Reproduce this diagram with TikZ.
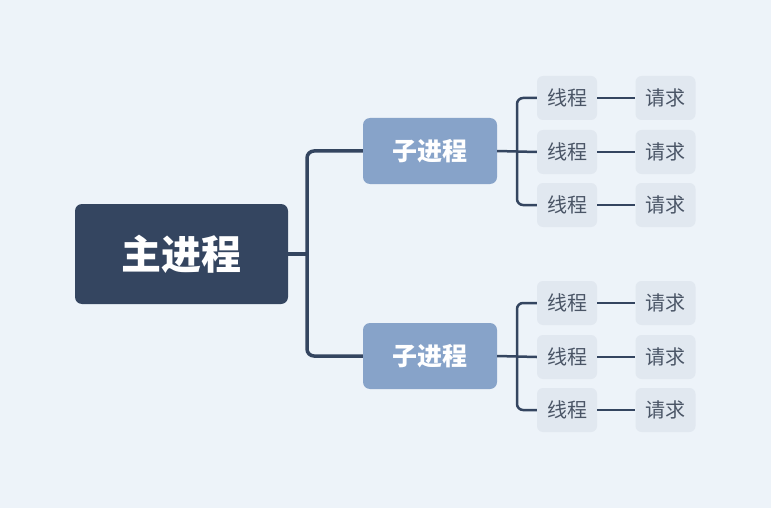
\documentclass[tikz,border=0pt]{standalone}
\usepackage{fontspec}
\setmainfont{Noto Sans CJK SC}
\usetikzlibrary{positioning}
\definecolor{bgcol}{HTML}{EDF3F9}
\definecolor{rootcol}{HTML}{344560}
\definecolor{subcol}{HTML}{87A3C9}
\definecolor{leafcol}{HTML}{E1E8F0}
\definecolor{leaftext}{HTML}{4A5566}
\begin{document}
\begin{tikzpicture}[
    x=1pt, y=-1pt,
    root/.style={rectangle, rounded corners=7pt, fill=rootcol, text=white, minimum width=213pt, minimum height=100pt, font=\bfseries\fontsize{40}{42}\selectfont},
    proc/.style={rectangle, rounded corners=7pt, fill=subcol, text=white, minimum width=134pt, minimum height=66pt, font=\bfseries\fontsize{25}{28}\selectfont},
    leaf/.style={rectangle, rounded corners=6pt, fill=leafcol, text=leaftext, minimum width=60pt, minimum height=44pt, font=\fontsize{20}{22}\selectfont},
    link/.style={draw=rootcol, line width=3.5pt, rounded corners=7pt},
    thin/.style={draw=rootcol, line width=2.5pt, rounded corners=6pt}
]
\fill[bgcol] (0,0) rectangle (771,508);

% Root
\node[root] (main) at (181.5,254) {主进程};

% Sub processes
\node[proc] (procA) at (430,151) {子进程};
\node[proc] (procB) at (430,356) {子进程};

\draw[link] (main.east) -- (307,254);
\draw[link] (procA.west) -| (307,356) -- (procB.west);

% Threads and requests
\foreach \p/\ys in {A/{98,152,205}, B/{303,357,410}} {
  \foreach \y [count=\i] in \ys {
    \node[leaf] (thr\p\i) at (567,\y) {线程};
    \node[leaf] (req\p\i) at (665.5,\y) {请求};
    \draw[thin] (thr\p\i.east) -- (req\p\i.west);
  }
  \draw[thin] (proc\p.east) -- (thr\p2.west);
  \draw[thin] (thr\p1.west) -| (517,0 |- thr\p3.west) -- (thr\p3.west);
}
\end{tikzpicture}
\end{document}
